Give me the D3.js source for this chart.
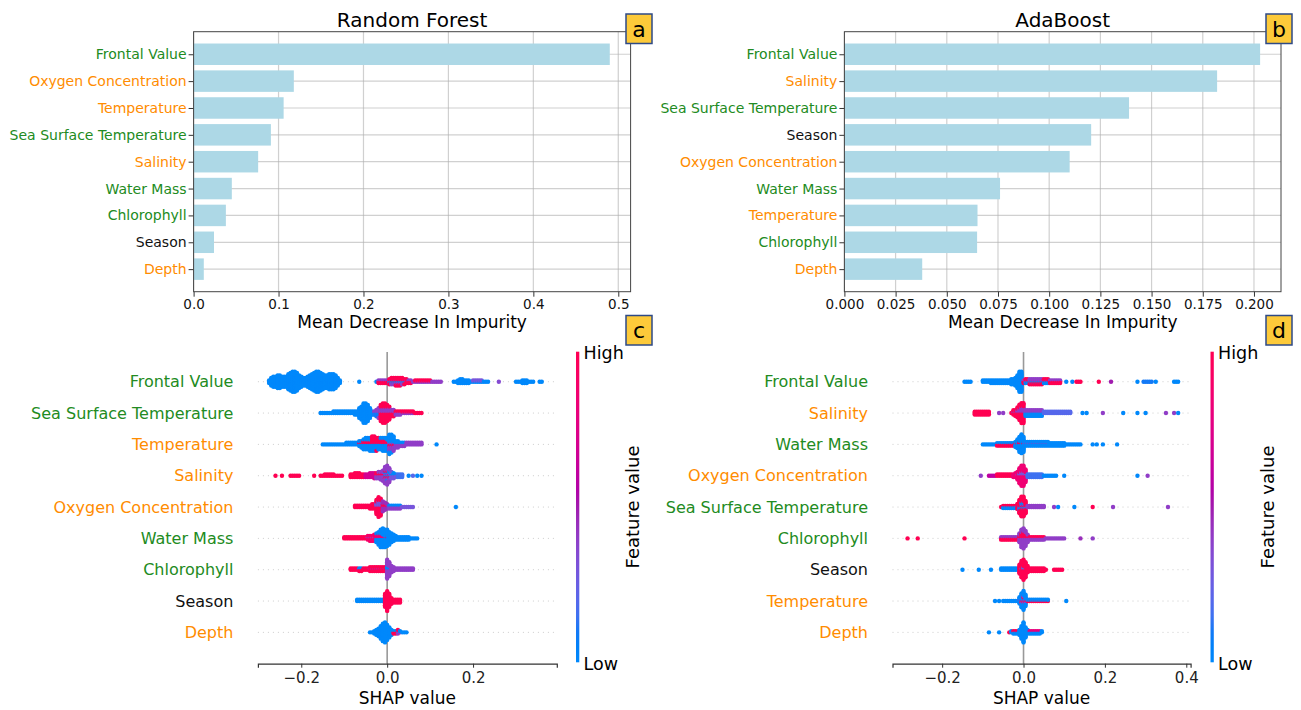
<!DOCTYPE html>
<html>
<head>
<meta charset="utf-8">
<script src="https://cdn.jsdelivr.net/npm/d3@7"></script>
<style>
	body { margin: 0; background: #fff; }
	svg { display: block; }
	text { font-family: "DejaVu Sans", sans-serif; }
</style>
</head>
<body>
<svg id="chart" width="1301" height="710"></svg>
<script>
// feature groups (label colours)
const greenFeatures = ["Frontal Value", "Sea Surface Temperature", "Water Mass", "Chlorophyll"];
const orangeFeatures = ["Oxygen Concentration", "Temperature", "Salinity", "Depth"];

// panel a - Random Forest impurity importance
const rfFeatures = ["Frontal Value", "Oxygen Concentration", "Temperature", "Sea Surface Temperature", "Salinity", "Water Mass", "Chlorophyll", "Season", "Depth"];
const rfImportance = [0.490, 0.118, 0.106, 0.091, 0.076, 0.045, 0.038, 0.024, 0.012];
const rfTicks = [0, 0.1, 0.2, 0.3, 0.4, 0.5];

// panel b - AdaBoost impurity importance
const adaFeatures = ["Frontal Value", "Salinity", "Sea Surface Temperature", "Season", "Oxygen Concentration", "Water Mass", "Temperature", "Chlorophyll", "Depth"];
const adaImportance = [0.203, 0.182, 0.139, 0.1205, 0.110, 0.076, 0.065, 0.0648, 0.038];
const adaTicks = [0, 0.025, 0.05, 0.075, 0.1, 0.125, 0.15, 0.175, 0.2];

// SHAP beeswarm rows, bins of 0.005 SHAP units. Entries are either
// [shapFrom, shapTo, dotsPerBin, featureValue] or [shapFrom, [dots in each bin], featureValue]
// featureValue: 0 = low (blue) .. 1 = high (red)
const shapTicksRF = [-0.2, 0, 0.2];
const shapTicksAda = [-0.2, 0, 0.2, 0.4];

const rfShapFeatures = ["Frontal Value", "Sea Surface Temperature", "Temperature", "Salinity", "Oxygen Concentration", "Water Mass", "Chlorophyll", "Season", "Depth"];
const rfShapRuns = [
	[[-0.275, [3, 7, 9, 9, 11, 11, 9, 9, 9, 13, 15, 17, 17, 15, 11, 9, 7, 7, 9, 11, 13, 15, 17, 17, 15, 13, 11, 11, 13, 13, 13, 11, 7, 3], 0],
		[-0.065, -0.065, 1, 0], [-0.025, -0.025, 1, 0], [-0.02, -0.005, 2, 1], [-0.02, -0.005, 1, 0.4],
		[0.0, [2, 3, 3, 3, 4, 4, 4, 3, 3, 3, 2, 2], 1], [0.0, [1, 1, 2, 2, 2, 2, 2, 2, 1, 1, 1, 1], 0.4], [0.005, 0.04, 1, 0],
		[0.06, 0.125, 1, 0.4], [0.065, 0.1, 1, 1], [0.155, 0.235, 1, 0], [0.165, [2, 3, 3, 2, 2, 2], 0], [0.2, 0.22, 1, 0.3], [0.26, 0.26, 1, 0.35],
		[0.3, 0.34, 1, 0], [0.315, 0.325, 2, 0], [0.355, 0.36, 1, 0]],
	[[-0.155, -0.13, 1, 0], [-0.125, -0.08, 2, 0], [-0.075, [3, 3, 7, 9, 13, 13, 11, 7, 3], 0], [-0.03, [2, 3, 3], 0.1], [-0.03, [1, 2, 4], 0.4],
		[-0.015, [8, 10, 10, 8, 6, 3, 3], 1], [-0.015, [3, 3, 3, 3, 3, 2, 2], 0.4], [0.02, 0.03, 2, 0.4], [0.02, 0.03, 1, 1],
		[0.035, 0.06, 1, 0.4], [0.035, 0.06, 1, 1], [0.065, 0.08, 1, 1]],
	[[-0.15, -0.1, 1, 0], [-0.095, -0.08, 2, 0], [-0.075, [2, 2, 3, 4, 5, 6, 6, 7], 0], [-0.065, [1, 1, 2, 2, 2, 2], 1],
		[-0.035, [5, 5, 4, 4, 5, 6, 6, 7], 0], [-0.035, [5, 5, 5, 4, 3, 3, 3, 2], 1], [0.005, [8, 7, 5], 0], [0.005, [4, 4, 4], 0.4], [0.005, [1, 1, 1], 1],
		[0.02, [3, 3, 2, 2, 2], 0.4], [0.02, [2, 2, 1, 1, 1], 0], [0.045, 0.08, 2, 0.4], [0.115, 0.115, 1, 0]],
	[[-0.26, -0.26, 1, 1], [-0.245, -0.245, 1, 1], [-0.225, -0.205, 1, 1], [-0.17, -0.17, 1, 1], [-0.155, -0.105, 1, 1], [-0.145, -0.125, 1, 1],
		[-0.085, [3, 3, 4, 4, 4, 3, 3], 1], [-0.05, [3, 3, 4, 4, 5], 0.7], [-0.025, [3, 4, 5, 7], 0.4], [-0.025, [2, 2, 2, 2], 1],
		[-0.005, [9, 10, 7], 0.4], [-0.005, [3, 3, 2], 1], [-0.005, [2, 3, 3], 0], [0.01, [4, 3, 2], 0.3], [0.01, [2, 2, 1], 0], [0.025, 0.035, 3, 0.15],
		[0.05, 0.05, 1, 0], [0.06, 0.06, 1, 0.2], [0.07, 0.07, 1, 0], [0.08, 0.08, 1, 0]],
	[[-0.075, -0.045, 2, 1], [-0.04, [3, 4, 4], 1], [-0.025, [8, 11, 9], 1], [-0.025, [3, 4, 4], 0.3], [-0.01, [6, 4, 3], 0.45], [-0.01, [2, 2, 1], 1],
		[0.005, 0.03, 2, 0.4], [0.005, 0.03, 1, 0], [0.035, 0.06, 1, 0.3], [0.16, 0.16, 1, 0]],
	[[-0.1, -0.05, 2, 1], [-0.045, [3, 4, 4, 5], 0.9], [-0.045, [1, 1, 1, 1], 0.35], [-0.025, [5, 8, 12, 14, 14, 13, 11, 8, 6, 4], 0],
		[-0.025, [3, 3, 3, 2, 1, 1], 0.85], [0.025, 0.05, 3, 0], [0.055, 0.07, 1, 0]],
	[[-0.085, -0.045, 2, 1], [-0.065, -0.06, 1, 0], [-0.04, -0.005, 3, 1], [-0.04, -0.005, 1, 0.4], [0.0, [13, 10], 0.4], [0.0, [3, 2], 0],
		[0.01, [6, 4], 0.4], [0.02, 0.06, 2, 0.4]],
	[[-0.07, -0.01, 2, 0], [-0.005, [10, 15, 10], 1], [0.01, [5, 3, 3, 3, 3], 1]],
	[[-0.04, -0.035, 1, 0], [-0.03, [3, 5, 7, 11, 15, 17, 13, 9, 5], 0], [0.015, [2, 2, 2], 1], [0.015, [1, 1, 1], 0], [0.025, 0.03, 1, 0.4], [0.03, 0.045, 1, 0]]
];

const adaShapFeatures = ["Frontal Value", "Salinity", "Water Mass", "Oxygen Concentration", "Sea Surface Temperature", "Chlorophyll", "Season", "Temperature", "Depth"];
const adaShapRuns = [
	[[-0.145, -0.13, 1, 0], [-0.1, -0.085, 2, 0], [-0.08, -0.04, 3, 0], [-0.035, [3, 5, 5, 7, 11, 17, 17], 0], [0.0, 0.09, 2, 1], [0.0, 0.09, 1, 0.4], [0.005, 0.06, 1, 0],
		[0.015, 0.045, 1, 0.4], [0.105, 0.105, 1, 0], [0.12, 0.12, 1, 0], [0.13, 0.14, 1, 1], [0.185, 0.185, 1, 1], [0.215, 0.215, 1, 0.5], [0.28, 0.28, 1, 0], [0.295, 0.315, 1, 0.1],
		[0.325, 0.325, 1, 0], [0.37, 0.38, 1, 0]],
	[[-0.12, -0.085, 3, 1], [-0.06, -0.06, 1, 0.4], [-0.05, -0.05, 1, 0.4], [-0.03, -0.03, 1, 1], [-0.025, [3, 4, 6, 9, 11, 11], 1], [-0.025, [1, 1, 2, 3, 4, 4], 0.4],
		[0.005, 0.045, 3, 0], [0.005, 0.045, 2, 0.4], [0.05, 0.115, 2, 0.2], [0.145, 0.145, 1, 0], [0.155, 0.155, 1, 0], [0.195, 0.195, 1, 0.4], [0.245, 0.245, 1, 0],
		[0.28, 0.28, 1, 0], [0.3, 0.3, 1, 0], [0.35, 0.35, 1, 0.4], [0.37, 0.37, 1, 0.4], [0.38, 0.38, 1, 0]],
	[[-0.1, -0.07, 1, 0], [-0.065, -0.025, 2, 1], [-0.065, -0.025, 1, 0], [-0.02, [4, 7, 11, 15, 12], 0], [-0.02, [1, 1, 2, 1, 1], 1], [0.005, 0.1, 3, 0], [0.005, 0.06, 1, 0.4],
		[0.105, 0.14, 1, 0], [0.17, 0.17, 1, 0], [0.18, 0.18, 1, 0], [0.195, 0.195, 1, 0], [0.23, 0.23, 1, 0]],
	[[-0.105, -0.105, 1, 0.4], [-0.085, -0.07, 1, 0.6], [-0.065, -0.03, 2, 1], [-0.025, [3, 4, 6, 11, 14, 14, 9], 0.85], [-0.015, [1, 2, 3, 3, 2], 0.3],
		[0.01, 0.045, 3, 0.15], [0.05, 0.08, 1, 0], [0.1, 0.1, 1, 0], [0.28, 0.28, 1, 0], [0.305, 0.305, 1, 0.4]],
	[[-0.055, -0.055, 1, 1], [-0.05, -0.02, 2, 0], [-0.05, -0.02, 1, 1], [-0.015, [5, 10, 14, 14, 10], 1], [-0.015, [1, 3, 4, 4, 2], 0], [-0.01, [1, 2, 2, 1], 0.4],
		[0.01, 0.05, 2, 0.4], [0.075, 0.075, 1, 0.4], [0.085, 0.085, 1, 0], [0.125, 0.125, 1, 0], [0.17, 0.17, 1, 1], [0.22, 0.22, 1, 0.4], [0.355, 0.355, 1, 0.4]],
	[[-0.285, -0.285, 1, 1], [-0.26, -0.26, 1, 1], [-0.145, -0.145, 1, 1], [-0.055, -0.015, 2, 1], [-0.055, -0.015, 1, 0.4], [-0.01, [6, 11, 12, 9, 5], 0.4],
		[-0.01, [2, 4, 5, 4, 2], 1], [0.015, 0.05, 2, 0.4], [0.015, 0.05, 1, 1], [0.055, 0.1, 1, 0.4], [0.14, 0.14, 1, 0.45], [0.17, 0.17, 1, 0.4]],
	[[-0.15, -0.15, 1, 0], [-0.11, -0.11, 1, 0], [-0.08, -0.08, 1, 0], [-0.055, -0.015, 2, 0], [-0.01, [8, 13, 15, 12, 6], 1], [-0.01, [0, 1, 2, 1, 0], 0.2],
		[0.015, 0.05, 3, 1], [0.055, 0.055, 1, 1], [0.075, 0.095, 1, 1]],
	[[-0.07, -0.07, 1, 0], [-0.06, -0.06, 1, 0], [-0.05, -0.015, 1, 0], [-0.01, [5, 9, 11, 7], 0], [-0.01, [1, 2, 3, 2], 0.4], [-0.005, [1, 2, 1], 1],
		[0.01, 0.06, 1, 1], [0.01, 0.06, 1, 0], [0.105, 0.105, 1, 0]],
	[[-0.085, -0.085, 1, 0], [-0.06, -0.06, 1, 0], [-0.035, -0.035, 1, 1], [-0.03, -0.015, 2, 0], [-0.025, -0.015, 1, 1], [-0.01, [5, 11, 17, 9, 4], 0],
		[0.015, 0.045, 2, 0], [0.015, 0.04, 1, 0.8]]
];

const svg = d3.select("#chart");

// shap red_blue colormap: LCh path from blue to red, lightness dipping in the middle
function shapColor(t) {
	const h = 266.9 + (380.3 - 266.9) * t;
	const c = 70 + 20 * t;
	const l = t < 0.5 ? 54 - 28 * t : 40 + 28 * (t - 0.5);
	return d3.hcl(h % 360, c, l).formatHex();
}

function labelColor(f) {
	if (greenFeatures.includes(f)) return "#228b22";
	if (orangeFeatures.includes(f)) return "#ff8c00";
	return "#111";
}

function drawBars(o) {
	const x = d3.scaleLinear().domain([0, o.xMax]).range([o.left, o.right]);
	const y = d3.scaleLinear().domain([-0.84, o.features.length - 1 + 0.84]).range([o.top, o.bottom]);
	const g = svg.append("g");

	// grid behind the bars
	g.selectAll(".vgrid").data(o.ticks).join("line")
		.attr("x1", (d) => x(d)).attr("x2", (d) => x(d))
		.attr("y1", o.top).attr("y2", o.bottom)
		.attr("stroke", "#b0b0b0").attr("stroke-opacity", 0.6).attr("stroke-width", 1.2);
	g.selectAll(".hgrid").data(o.features).join("line")
		.attr("x1", o.left).attr("x2", o.right)
		.attr("y1", (d, i) => y(i)).attr("y2", (d, i) => y(i))
		.attr("stroke", "#b0b0b0").attr("stroke-opacity", 0.6).attr("stroke-width", 1.2);

	g.selectAll(".bar").data(o.values).join("rect")
		.attr("x", x(0))
		.attr("y", (d, i) => y(i - 0.4))
		.attr("width", (d) => x(d) - x(0))
		.attr("height", y(0.4) - y(-0.4))
		.attr("fill", "#add8e6");

	// axes
	const xAxis = g.append("g")
		.attr("transform", `translate(0,${o.bottom})`)
		.call(d3.axisBottom(x).tickValues(o.ticks).tickFormat(d3.format(o.fmt)).tickSize(5).tickPadding(3));
	xAxis.select(".domain").remove();
	xAxis.selectAll("text").style("font-size", "13.5px").attr("fill", "#111");
	xAxis.selectAll("line").attr("stroke", "#333");

	const yAxis = g.append("g")
		.attr("transform", `translate(${o.left},0)`)
		.call(d3.axisLeft(y).tickValues(d3.range(o.features.length)).tickFormat((i) => o.features[i]).tickSize(5).tickPadding(2));
	yAxis.select(".domain").remove();
	yAxis.selectAll("text").style("font-size", "14px").attr("fill", (i) => labelColor(o.features[i]));
	yAxis.selectAll("line").attr("stroke", "#333");

	g.append("rect")
		.attr("x", o.left).attr("y", o.top)
		.attr("width", o.right - o.left).attr("height", o.bottom - o.top)
		.attr("fill", "none").attr("stroke", "#444").attr("stroke-width", 1);

	g.append("text")
		.attr("x", (o.left + o.right) / 2).attr("y", 27)
		.attr("text-anchor", "middle")
		.style("font-size", "20px")
		.text(o.title);

	g.append("text")
		.attr("x", (o.left + o.right) / 2).attr("y", 328)
		.attr("text-anchor", "middle")
		.style("font-size", "17px")
		.text("Mean Decrease In Impurity");
}

// shap style beeswarm stacking: alternating layers inside each bin
function layoutRow(runs, binW) {
	const bins = new Map();
	const add = (k, n, c) => {
		if (n <= 0) return;
		if (!bins.has(k)) bins.set(k, []);
		bins.get(k).push({ n, c });
	};
	runs.forEach((r) => {
		const k0 = Math.round(r[0] / binW);
		if (Array.isArray(r[1])) {
			r[1].forEach((n, j) => add(k0 + j, n, r[2]));
		} else {
			const k1 = Math.round(r[1] / binW);
			for (let k = k0; k <= k1; k++) add(k, r[2], r[3]);
		}
	});
	const dots = [];
	let maxLayer = 0;
	bins.forEach((groups, k) => {
		const seq = [];
		const left = groups.map((g) => g.n);
		let any = true;
		while (any) {
			any = false;
			groups.forEach((g, i) => {
				if (left[i] > 0) { seq.push(g.c); left[i]--; any = true; }
			});
		}
		seq.forEach((c, layer) => {
			const off = Math.ceil(layer / 2) * (layer % 2 ? 1 : -1);
			maxLayer = Math.max(maxLayer, Math.ceil(layer / 2));
			dots.push({ x: k * binW, off, c });
		});
	});
	return { dots, maxLayer };
}

function drawShap(o) {
	const n = o.features.length;
	const x = d3.scaleLinear().domain(o.xDomain).range([o.left, o.right]);
	const y = d3.scaleLinear().domain([-1, n]).range([o.bottom, o.top]);
	const rowPx = y(0) - y(1);
	const pos = (i) => n - 1 - i;
	const g = svg.append("g");

	g.selectAll(".rowline").data(o.features).join("line")
		.attr("x1", o.left).attr("x2", o.right)
		.attr("y1", (d, i) => y(pos(i))).attr("y2", (d, i) => y(pos(i)))
		.attr("stroke", "#cccccc").attr("stroke-width", 1).attr("stroke-dasharray", "1,4");

	g.append("line")
		.attr("x1", x(0)).attr("x2", x(0))
		.attr("y1", y(n) + 1.5).attr("y2", y(-1))
		.attr("stroke", "#999999").attr("stroke-width", 1.6);

	o.runs.forEach((runs, i) => {
		const { dots, maxLayer } = layoutRow(runs, 0.005);
		const unit = 0.36 / (maxLayer + 1) * rowPx;
		g.append("g").selectAll("circle").data(dots).join("circle")
			.attr("cx", (d) => x(d.x))
			.attr("cy", (d) => y(pos(i)) - d.off * unit)
			.attr("r", 2.2)
			.attr("fill", (d) => shapColor(d.c));
	});

	g.selectAll(".rowlabel").data(o.features).join("text")
		.attr("x", o.left - 24.5)
		.attr("y", (d, i) => y(pos(i)))
		.attr("dy", "0.36em")
		.attr("text-anchor", "end")
		.style("font-size", "16px")
		.attr("fill", (d) => labelColor(d))
		.text((d) => d);

	const xAxis = g.append("g")
		.attr("transform", `translate(0,${y(-1)})`)
		.call(d3.axisBottom(x).tickValues(o.ticks).tickFormat(d3.format(".1f")).tickSize(4).tickPadding(5));
	xAxis.select(".domain").attr("stroke", "#333").attr("stroke-width", 1.2);
	xAxis.selectAll("text").style("font-size", "15px").attr("fill", "#222");
	xAxis.selectAll("line").attr("stroke", "#333");

	g.append("text")
		.attr("x", (o.left + o.right) / 2).attr("y", 704)
		.attr("text-anchor", "middle")
		.style("font-size", "17px")
		.text("SHAP value");

	// colour bar
	const gradId = "grad" + o.id;
	const grad = svg.append("defs").append("linearGradient")
		.attr("id", gradId).attr("x1", 0).attr("y1", 1).attr("x2", 0).attr("y2", 0);
	grad.selectAll("stop").data(d3.range(0, 1.0001, 0.05)).join("stop")
		.attr("offset", (d) => d)
		.attr("stop-color", (d) => shapColor(d));
	g.append("rect")
		.attr("x", o.cbX).attr("y", 351.7)
		.attr("width", 3.3).attr("height", 310.6)
		.attr("fill", `url(#${gradId})`);
	g.append("text").attr("x", o.cbX + 7.5).attr("y", 358.5).style("font-size", "17.5px").text("High");
	g.append("text").attr("x", o.cbX + 7.5).attr("y", 670).style("font-size", "17.5px").text("Low");
	g.append("text")
		.attr("transform", `translate(${o.cbX + 63},507) rotate(-90)`)
		.attr("text-anchor", "middle")
		.style("font-size", "18px")
		.text("Feature value");
}

drawBars({ title: "Random Forest", features: rfFeatures, values: rfImportance, ticks: rfTicks, fmt: ".1f",
	xMax: 0.5145, left: 193.6, right: 630.6, top: 31.7, bottom: 291.7 });
drawBars({ title: "AdaBoost", features: adaFeatures, values: adaImportance, ticks: adaTicks, fmt: ".3f",
	xMax: 0.2132, left: 844.4, right: 1281, top: 31.7, bottom: 291.7 });

drawShap({ id: "c", features: rfShapFeatures, runs: rfShapRuns, ticks: shapTicksRF,
	xDomain: [-0.301, 0.395], left: 257.9, right: 556.8, top: 350.4, bottom: 663.7, cbX: 576 });
drawShap({ id: "d", features: adaShapFeatures, runs: adaShapRuns, ticks: shapTicksAda,
	xDomain: [-0.322, 0.4106], left: 892.5, right: 1190.6, top: 350.4, bottom: 663.7, cbX: 1210.5 });

// panel letters
const panelLetters = ["a", "b", "c", "d"];
const letterBoxes = svg.selectAll(".letter").data(panelLetters).join("g")
	.attr("transform", (d, i) => `translate(${i % 2 ? 1266 : 626},${i < 2 ? 14 : 315.5})`);
letterBoxes.append("rect")
	.attr("width", 26).attr("height", 29.5)
	.attr("fill", "#fdca3a").attr("stroke", "#2e4a86").attr("stroke-width", 1.5);
letterBoxes.append("text")
	.attr("x", 13).attr("y", 22.5)
	.attr("text-anchor", "middle")
	.style("font-size", "22px")
	.text((d) => d);
</script>
</body>
</html>
